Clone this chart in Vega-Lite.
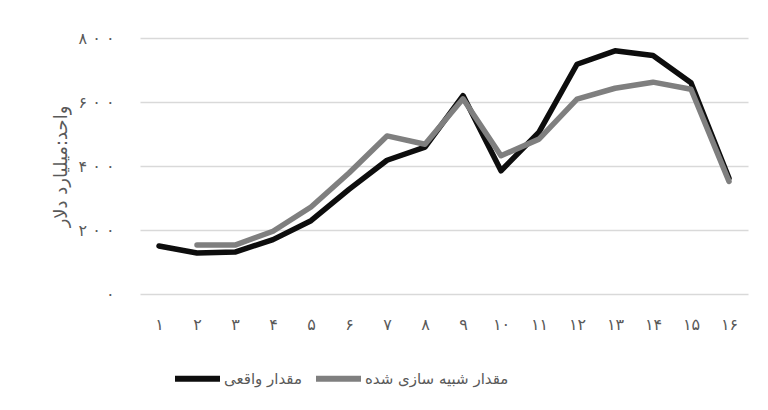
{
  "$schema": "https://vega.github.io/schema/vega-lite/v6.json",
  "width": 608,
  "height": 256,
  "autosize": {"type": "none"},
  "padding": {"left": 140, "top": 38, "right": 20, "bottom": 116},
  "background": "white",
  "config": {
    "view": {"stroke": null},
    "font": "DejaVu Sans",
    "axis": {"labelFont": "DejaVu Sans", "titleFont": "DejaVu Sans"}
  },
  "data": {
    "values": [
      {"t": "۱", "s": "مقدار واقعی", "v": 150},
      {"t": "۲", "s": "مقدار واقعی", "v": 128},
      {"t": "۳", "s": "مقدار واقعی", "v": 131},
      {"t": "۴", "s": "مقدار واقعی", "v": 170},
      {"t": "۵", "s": "مقدار واقعی", "v": 229},
      {"t": "۶", "s": "مقدار واقعی", "v": 327},
      {"t": "۷", "s": "مقدار واقعی", "v": 418},
      {"t": "۸", "s": "مقدار واقعی", "v": 459},
      {"t": "۹", "s": "مقدار واقعی", "v": 620},
      {"t": "۱۰", "s": "مقدار واقعی", "v": 385},
      {"t": "۱۱", "s": "مقدار واقعی", "v": 506},
      {"t": "۱۲", "s": "مقدار واقعی", "v": 718},
      {"t": "۱۳", "s": "مقدار واقعی", "v": 760},
      {"t": "۱۴", "s": "مقدار واقعی", "v": 745},
      {"t": "۱۵", "s": "مقدار واقعی", "v": 660},
      {"t": "۱۶", "s": "مقدار واقعی", "v": 362},
      {"t": "۲", "s": "مقدار شبیه سازی شده", "v": 153},
      {"t": "۳", "s": "مقدار شبیه سازی شده", "v": 153},
      {"t": "۴", "s": "مقدار شبیه سازی شده", "v": 196},
      {"t": "۵", "s": "مقدار شبیه سازی شده", "v": 272},
      {"t": "۶", "s": "مقدار شبیه سازی شده", "v": 378},
      {"t": "۷", "s": "مقدار شبیه سازی شده", "v": 494},
      {"t": "۸", "s": "مقدار شبیه سازی شده", "v": 468},
      {"t": "۹", "s": "مقدار شبیه سازی شده", "v": 610},
      {"t": "۱۰", "s": "مقدار شبیه سازی شده", "v": 432},
      {"t": "۱۱", "s": "مقدار شبیه سازی شده", "v": 484},
      {"t": "۱۲", "s": "مقدار شبیه سازی شده", "v": 609},
      {"t": "۱۳", "s": "مقدار شبیه سازی شده", "v": 643},
      {"t": "۱۴", "s": "مقدار شبیه سازی شده", "v": 662},
      {"t": "۱۵", "s": "مقدار شبیه سازی شده", "v": 640},
      {"t": "۱۶", "s": "مقدار شبیه سازی شده", "v": 352}
    ]
  },
  "mark": {"type": "line", "strokeWidth": 5.5, "strokeCap": "round", "strokeJoin": "round"},
  "encoding": {
    "x": {
      "field": "t",
      "type": "ordinal",
      "sort": null,
      "scale": {"type": "point", "padding": 0.5},
      "axis": {
        "title": null,
        "labelAngle": 0,
        "ticks": false,
        "domain": false,
        "grid": false,
        "labelFontSize": 16,
        "labelColor": "#595959",
        "labelPadding": 22
      }
    },
    "y": {
      "field": "v",
      "type": "quantitative",
      "scale": {"domain": [0, 800], "nice": false},
      "axis": {
        "title": "واحد:میلیارد دلار",
        "titleFontSize": 18,
        "titleFontWeight": "normal",
        "titleColor": "#595959",
        "titlePadding": 8,
        "values": [0, 200, 400, 600, 800],
        "labelExpr": "datum.value == 800 ? '۸ ۰ ۰' : datum.value == 600 ? '۶ ۰ ۰' : datum.value == 400 ? '۴ ۰ ۰' : datum.value == 200 ? '۲ ۰ ۰' : '۰'",
        "labelFontSize": 16,
        "labelColor": "#595959",
        "labelPadding": 26,
        "ticks": false,
        "domain": false,
        "gridColor": "#d9d9d9",
        "gridWidth": 1.3
      }
    },
    "color": {
      "field": "s",
      "type": "nominal",
      "sort": ["مقدار واقعی", "مقدار شبیه سازی شده"],
      "scale": {"domain": ["مقدار واقعی", "مقدار شبیه سازی شده"], "range": ["#0d0d0d", "#7f7f7f"]},
      "legend": {
        "title": null,
        "orient": "none",
        "direction": "horizontal",
        "legendX": 32,
        "legendY": 315,
        "padding": 0,
        "symbolType": "stroke",
        "symbolSize": 2025,
        "symbolStrokeWidth": 6,
        "labelFontSize": 15,
        "labelLimit": 400,
        "labelColor": "#595959",
        "labelOffset": 1,
        "columnPadding": 2
      }
    }
  }
}
